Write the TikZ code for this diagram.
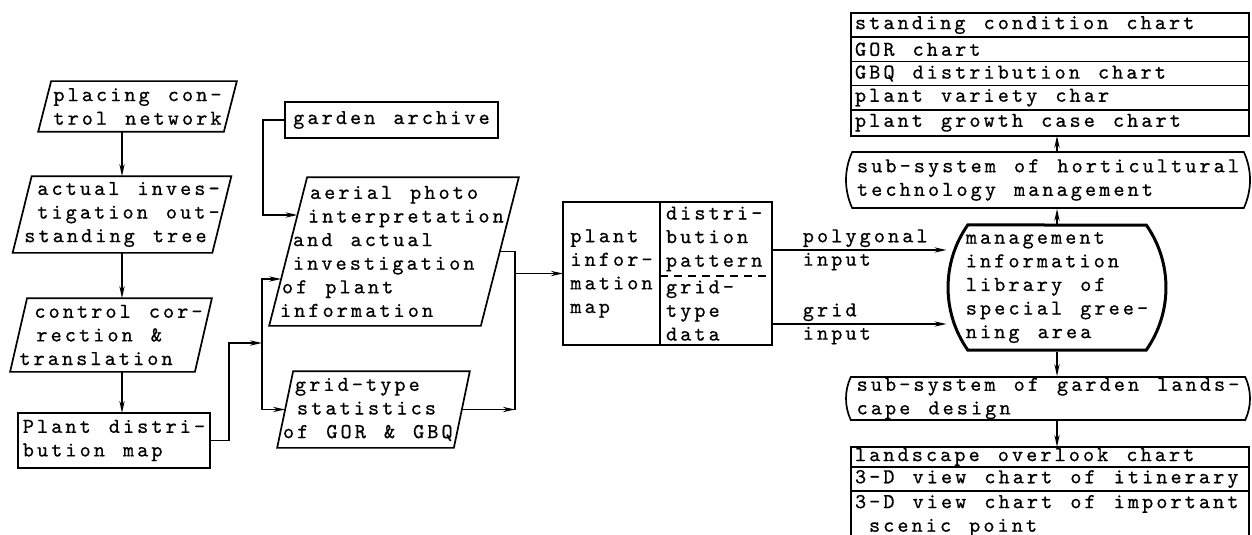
\documentclass[tikz,border=0pt]{standalone}
\usepackage{fontspec}
\setmonofont{lmmono10-regular.otf}[LetterSpace=14.5,WordSpace=1.27,FakeBold=0.6]
\usetikzlibrary{positioning,calc,shapes.misc,arrows.meta}
\newcommand\rowtext[1]{\makebox[195pt][l]{#1}}

\begin{document}
\begin{tikzpicture}[
  x=0.5pt, y=-0.5pt,
  font=\ttfamily\fontsize{10.6}{11.8}\selectfont,
  line width=0.85pt,
  >={Stealth[length=6pt,width=2.6pt]},
  arrow/.style={->},
  para/.style={align=left, inner sep=0pt},
  box/.style={draw, align=left, inner sep=0pt, outer sep=0pt},
  part/.style={anchor=north west, minimum width=56pt, text width=50pt,
    align=left, inner sep=0pt, outer sep=0pt},
  row/.style={draw, outer sep=0pt, minimum width=199pt, minimum height=12.1pt,
    inner sep=0pt, align=left},
  subsys/.style={draw, rounded rectangle, rounded rectangle arc length=50,
    align=left, inner sep=0pt},
  lbl/.style={at start, inner sep=1pt, xshift=14pt}
]
\useasboundingbox (0,0) rectangle (1252,535);

% survey chain
\node[para, minimum width=92pt, minimum height=24.5pt] (ctrlnet) at (137.5,106.5)
  {placing con-\\trol network};
\node[para, minimum width=99pt, minimum height=37.5pt] (invest) at (122,214.5)
  {\hspace*{6.5pt}actual inves-\\\hspace*{6.5pt}tigation out-\\standing tree};
\node[para, minimum width=87.75pt, minimum height=36pt] (corr) at (111,335)
  {\hspace*{7.5pt}control cor-\\\hspace*{8.5pt}rection \&\\translation};
\node[box, minimum width=96pt, minimum height=27.5pt] (distmap) at (114,440.5)
  {Plant distri-\\bution map};

% plant information sources
\node[box, minimum width=106.5pt, minimum height=18pt] (archive) at (391.5,120)
  {garden archive};
\node[para, minimum width=105pt, minimum height=73.5pt] (aerial) at (394,251.5)
  {\makebox[105pt][l]{\hspace*{10.5pt}aerial photo}\\
   \hspace*{9.5pt}\rlap{interpretation}\\\hspace*{2pt}and actual\\
   \hspace*{2pt}investigation\\\hspace*{-3.5pt}of plant\\\hspace*{-4.5pt}information};
\node[para, minimum width=87.5pt, minimum height=37.5pt] (gridstat) at (373.5,409.5)
  {\makebox[87.5pt][l]{\hspace*{4.5pt}grid-type}\\\hspace*{5.5pt}statistics\\
   \hspace*{-1.5pt}of GOR \& GBQ};

\foreach \n/\s in {ctrlnet/3.25, invest/4.75, corr/4.25, aerial/9.5, gridstat/4}
  \draw ([xshift=\s pt]\n.north west) -- ([xshift=\s pt]\n.north east)
    -- ([xshift=-\s pt]\n.south east) -- ([xshift=-\s pt]\n.south west) -- cycle;

% plant information map
\node[box, minimum width=48.5pt, minimum height=71.5pt] (map) at (611.5,273.5)
  {plant\\infor-\\mation\\map};
\node[part, minimum height=37pt] (pattern) at (map.north east) {distri-\\bution\\pattern};
\node[part, minimum height=34.5pt] (griddata) at (pattern.south west) {grid-\\type\\data};
\draw (pattern.north west) rectangle (griddata.south east);
\draw[dash pattern=on 4pt off 3pt] (pattern.south west) -- (pattern.south east);

% library and sub-systems
\node[draw, rounded rectangle, rounded rectangle arc length=70, line width=1.5pt,
  minimum width=108pt, minimum height=62.5pt, align=left, inner sep=0pt] (mis)
  at (1057,287.5) {management\\information\\library of\\special gree-\\ning area};
\node[subsys, minimum width=202pt, minimum height=28pt] (hort) at (1048,180)
  {sub-system of horticultural\\technology management};
\node[subsys, minimum width=202pt, minimum height=21.5pt] (gsub) at (1048,398.5)
  {sub-system of garden lands-\\cape design};

% output charts
\node[row] (stand) at (1050,25.1) {\rowtext{standing condition chart}};
\node[row, below=0pt of stand] (gorc) {\rowtext{GOR chart}};
\node[row, below=0pt of gorc] (gbqc) {\rowtext{GBQ distribution chart}};
\node[row, below=0pt of gbqc] (varc) {\rowtext{plant variety char}};
\node[row, below=0pt of varc, minimum height=13pt] (growc) {\rowtext{plant growth case chart}};

\node[row, minimum height=10pt] (overlook) at (1050,457) {\rowtext{landscape overlook chart}};
\node[row, below=0pt of overlook] (itin) {\rowtext{3-D view chart of itinerary}};
\node[row, below=0pt of itin, minimum height=24.5pt] (scenic)
  {\rowtext{3-D view chart of important}\\\hspace*{7pt}scenic point};

% connectors
\draw[arrow] (ctrlnet.south -| invest.north) -- (invest.north);
\draw[arrow] (invest.south) -- (invest.south |- corr.north);
\draw[arrow] (invest.south |- corr.south) -- (invest.south |- distmap.north);

\coordinate (split) at (262,343);
\draw[arrow] (distmap.east) -- ++(9.5pt,0) |- (split);
\draw[arrow] (split) |- ([xshift=-3.5pt,yshift=-13.75pt]aerial.west);
\draw[arrow] (split) |- (gridstat.west);
\draw[arrow] (archive.west) -- ++(-11pt,0) |- ([xshift=4.7pt,yshift=18.25pt]aerial.west);

\coordinate (merge) at ($(map.west)+(-24pt,0)$);
\draw (aerial.east) -| (merge);
\draw[arrow] (gridstat.east) -- (gridstat.east -| merge);
\draw (gridstat.east -| merge) -- (merge);
\draw[arrow] (merge) -- (map.west);

\coordinate (polyin) at ([yshift=-5.5pt]pattern.east);
\coordinate (gridin) at ([yshift=-6.75pt]griddata.east);
\draw[arrow] (polyin) -- (polyin -| mis.west)
  node[lbl, anchor=south west] {polygonal}
  node[lbl, anchor=north west] {input};
\draw[arrow] (gridin) -- (gridin -| mis.west)
  node[lbl, anchor=south west] {grid}
  node[lbl, anchor=north west] {input};

\draw[arrow] (mis.north) -- (mis.north |- hort.south);
\draw[arrow] (mis.north |- hort.north) -- (mis.north |- growc.south);
\draw[arrow] (mis.south) -- (mis.south |- gsub.north);
\draw[arrow] (mis.south |- gsub.south) -- (mis.south |- overlook.north);
\end{tikzpicture}
\end{document}
